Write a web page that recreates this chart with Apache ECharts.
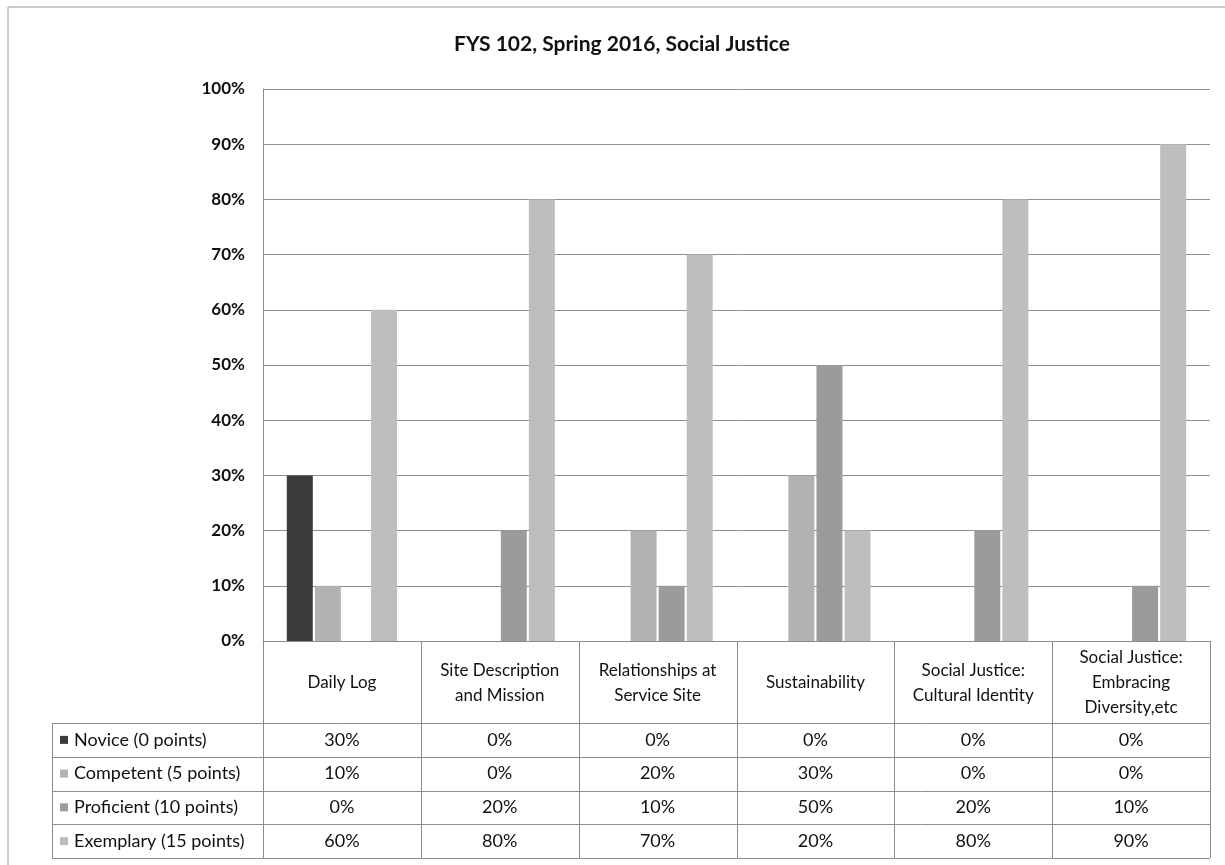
<!DOCTYPE html>
<html><head><meta charset="utf-8">
<script src="https://cdn.jsdelivr.net/npm/echarts@6/dist/echarts.min.js"></script>
<style>html,body{margin:0;padding:0;background:#fff}#c{width:1225px;height:865px}</style>
</head><body><div id="c"></div>
<script>
const title = 'FYS 102, Spring 2016, Social Justice';
const categories = ['Daily Log', 'Site Description\nand Mission', 'Relationships at\nService Site', 'Sustainability', 'Social Justice:\nCultural Identity', 'Social Justice:\nEmbracing\nDiversity,etc'];
const seriesNames = ['Novice (0 points)', 'Competent (5 points)', 'Proficient (10 points)', 'Exemplary (15 points)'];
const novice = [30, 0, 0, 0, 0, 0];
const competent = [10, 0, 20, 30, 0, 0];
const proficient = [0, 20, 10, 50, 20, 10];
const exemplary = [60, 80, 70, 20, 80, 90];
const yTicks = [0, 10, 20, 30, 40, 50, 60, 70, 80, 90, 100];

const seriesData = [novice, competent, proficient, exemplary];
const colors = ['#3c3c3c', '#b2b2b2', '#9b9b9b', '#bebebe'];
const FONT = 'Lato, "Open Sans", sans-serif';
const chart = echarts.init(document.getElementById('c'));
const G = {left: 263, right: 15, top: 89, bottom: 224};
chart.setOption({
  animation: false,
  textStyle: {fontFamily: FONT},
  grid: G,
  xAxis: {
    type: 'category', data: categories,
    axisLine: {show: true, lineStyle: {color: '#8c8c8c'}},
    axisTick: {show: false}, axisLabel: {show: false}, splitLine: {show: false}
  },
  yAxis: {
    type: 'value', min: yTicks[0], max: yTicks[yTicks.length - 1], interval: 10,
    axisLine: {show: true, lineStyle: {color: '#8c8c8c'}},
    axisTick: {show: false},
    axisLabel: {formatter: '{value}%', color: '#111', fontWeight: 'bold', fontSize: 17, margin: 18, fontFamily: FONT},
    splitLine: {lineStyle: {color: '#8f8f8f', width: 1}}
  },
  series: seriesData.map((d, i) => ({
    name: seriesNames[i], type: 'bar', data: d, barWidth: 26, barGap: '8%',
    itemStyle: {color: colors[i]}
  }))
});

// Data table drawn from the same arrays
const g = [];
const W = 1225, H = 865;
const gl = G.left, gr = W - G.right, gb = H - G.bottom;
const catW = (gr - gl) / categories.length;
const headerBottom = 723;
const rowH = 33.75;
const tableLeft = 52;
const lineC = '#8c8c8c';
g.push({type: 'rect', shape: {x: 8, y: 7, width: 1240, height: 880}, style: {fill: null, stroke: '#9a9a9a', lineWidth: 1}});
g.push({type: 'text', x: 622, y: 44, style: {text: title, align: 'center', verticalAlign: 'middle', font: 'bold 21px ' + FONT, fill: '#111'}});
for (let i = 0; i <= categories.length; i++) {
  const x = Math.round(gl + i * catW) + 0.5;
  g.push({type: 'line', shape: {x1: x, y1: gb, x2: x, y2: headerBottom + rowH * 4}, style: {stroke: lineC, lineWidth: 1}});
}
g.push({type: 'line', shape: {x1: tableLeft + 0.5, y1: headerBottom, x2: tableLeft + 0.5, y2: headerBottom + rowH * 4}, style: {stroke: lineC, lineWidth: 1}});
for (let r = 0; r <= 4; r++) {
  const y = Math.round(headerBottom + r * rowH) + 0.5;
  g.push({type: 'line', shape: {x1: tableLeft, y1: y, x2: gr, y2: y}, style: {stroke: lineC, lineWidth: 1}});
}
categories.forEach((c, i) => {
  const cx = chart.convertToPixel({xAxisIndex: 0}, i);
  g.push({type: 'text', x: cx, y: (gb + headerBottom) / 2 + 1, style: {text: c, align: 'center', verticalAlign: 'middle', font: '17px ' + FONT, lineHeight: 25, fill: '#111'}});
});
seriesData.forEach((d, r) => {
  const cy = headerBottom + (r + 0.5) * rowH;
  g.push({type: 'rect', shape: {x: 60, y: cy - 4, width: 8, height: 8}, style: {fill: colors[r]}});
  g.push({type: 'text', x: 74, y: cy, style: {text: seriesNames[r], align: 'left', verticalAlign: 'middle', font: '18px ' + FONT, fill: '#111'}});
  d.forEach((v, i) => {
    const cx = chart.convertToPixel({xAxisIndex: 0}, i);
    g.push({type: 'text', x: cx, y: cy, style: {text: v + '%', align: 'center', verticalAlign: 'middle', font: '18px ' + FONT, fill: '#111'}});
  });
});
chart.setOption({graphic: g});
</script></body></html>
